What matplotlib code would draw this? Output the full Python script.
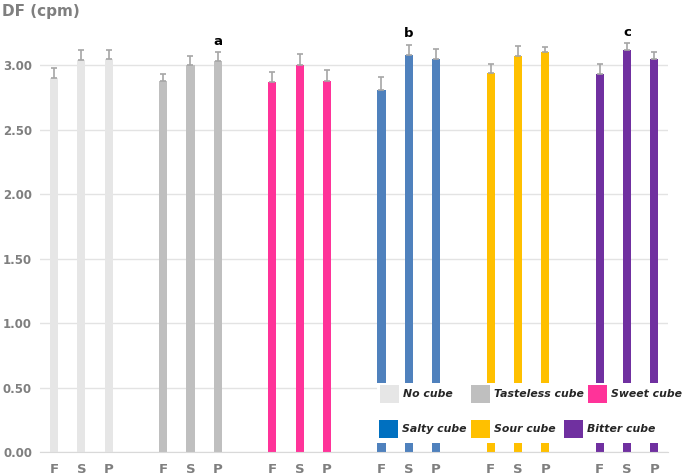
import numpy as np
import matplotlib
matplotlib.use("Agg")
import matplotlib.pyplot as plt
from matplotlib.patches import Patch, Rectangle

groups = ["No cube", "Tasteless cube", "Sweet cube", "Salty cube", "Sour cube", "Bitter cube"]
phases = ["F", "S", "P"]
bar_colors = ["#E6E6E6", "#BFBFBF", "#FF3399", "#4F81BD", "#FFC000", "#7030A0"]
legend_colors = ["#E6E6E6", "#BFBFBF", "#FF3399", "#0070C0", "#FFC000", "#7030A0"]

no_cube = [2.90, 3.04, 3.045]
tasteless = [2.88, 3.00, 3.03]
sweet = [2.87, 3.005, 2.88]
salty = [2.81, 3.08, 3.05]
sour = [2.94, 3.075, 3.10]
bitter = [2.93, 3.12, 3.05]

no_cube_err = [0.08, 0.08, 0.075]
tasteless_err = [0.05, 0.07, 0.07]
sweet_err = [0.08, 0.085, 0.08]
salty_err = [0.10, 0.08, 0.08]
sour_err = [0.07, 0.075, 0.045]
bitter_err = [0.08, 0.05, 0.055]

letters = [("a", 1, 2), ("b", 3, 1), ("c", 5, 1)]  # (label, group, phase)
y_ticks = [0.0, 0.5, 1.0, 1.5, 2.0, 2.5, 3.0]

means = [no_cube, tasteless, sweet, salty, sour, bitter]
errs = [no_cube_err, tasteless_err, sweet_err, salty_err, sour_err, bitter_err]

fig = plt.figure(figsize=(6.82, 4.76), dpi=100)
ax = fig.add_axes([40.4 / 682, 24 / 476, (668 - 40.4) / 682, 425.4 / 476])

gray = "#7F7F7F"
xpos_all = []
xlab_all = []
for gi, (m, e, c) in enumerate(zip(means, errs, bar_colors)):
    x = np.arange(3) + gi * 4
    ax.bar(x, m, width=0.3, color=c, zorder=2)
    ax.errorbar(x, m, yerr=[np.zeros(3), e], fmt="none", ecolor="#A6A6A6",
                elinewidth=1.2, capsize=2.5, capthick=1.2, zorder=3)
    xpos_all += list(x)
    xlab_all += phases

for lab, gi, pi in letters:
    x = gi * 4 + pi
    y = means[gi][pi] + errs[gi][pi]
    ax.annotate(lab, (x, y), xytext=(0, 8), textcoords="offset points",
                ha="center", va="center", fontsize=9.5, fontweight="bold", color="black")

ax.set_xlim(-0.5, 22.5)
ax.set_ylim(0, 3.3)
ax.set_yticks(y_ticks)
ax.set_yticklabels([f"{v:.2f}" for v in y_ticks])
ax.set_xticks(xpos_all)
ax.set_xticklabels(xlab_all)
ax.grid(axis="y", color="#E3E3E3", linewidth=1, zorder=0)
ax.set_axisbelow(True)
for s in ["top", "right", "left"]:
    ax.spines[s].set_visible(False)
ax.spines["bottom"].set_color("#D9D9D9")
ax.tick_params(axis="both", length=0, colors=gray)
for t in ax.get_yticklabels():
    t.set_fontweight("bold"); t.set_fontsize(8.5); t.set_color(gray)
for t in ax.get_xticklabels():
    t.set_fontweight("bold"); t.set_fontsize(9.5); t.set_color(gray)
ax.tick_params(axis="x", pad=8)
ax.tick_params(axis="y", pad=6)

fig.text(0.003, 0.975, "DF (cpm)", fontsize=11, fontweight="bold", color=gray,
         ha="left", va="center")

# white legend background
ax.add_patch(Rectangle((377 / 682, 1 - 443 / 476), (682 - 377) / 682, 60 / 476,
                       transform=fig.transFigure, facecolor="white", edgecolor="none",
                       zorder=4, clip_on=False))

# legend entries: each placed at its own column (pixel x of patch, pixel y centre)
entry_pos = [(380, 394), (471, 394), (588, 394), (379, 429), (471, 429), (564, 429)]
fs = 7.8
lkw = dict(frameon=False, handlelength=1.75, handleheight=2.2, handletextpad=0.4,
           borderpad=0, borderaxespad=0,
           prop=dict(size=fs, weight="bold", style="italic"), labelcolor="#262626")
for name, col, (px, py) in zip(groups, legend_colors, entry_pos):
    h = Patch(facecolor=col, edgecolor="none")
    lg = fig.legend([h], [name], loc="center left",
                    bbox_to_anchor=(px / 682, 1 - py / 476), **lkw)
    lg.set_zorder(6)

fig.savefig("out.png", dpi=100)
